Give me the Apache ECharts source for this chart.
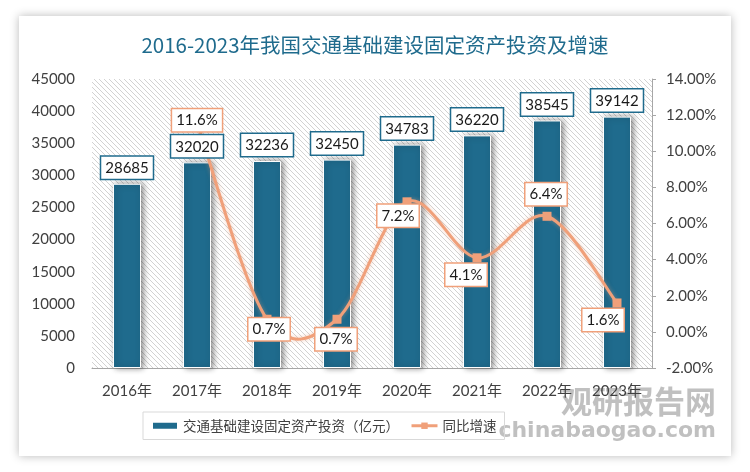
<!DOCTYPE html>
<html>
<head>
<meta charset="utf-8">
<script src="https://cdn.jsdelivr.net/npm/echarts@6/dist/echarts.min.js"></script>
<style>
  html, body { margin: 0; padding: 0; background: #ffffff; }
  #card { position: absolute; left: 19px; top: 16px; width: 712px; height: 440px; background: #fff;
          box-shadow: 0 0 9px rgba(0,0,0,0.28); }
  #chart { position: absolute; left: 0; top: 0; width: 750px; height: 472px; }
</style>
</head>
<body>
<div id="card"></div>
<div id="chart"></div>
<script>
// ---- data ----
const categories = ['2016年', '2017年', '2018年', '2019年', '2020年', '2021年', '2022年', '2023年'];
const investment = [28685, 32020, 32236, 32450, 34783, 36220, 38545, 39142];
const growth = [null, 11.6, 0.7, 0.7, 7.2, 4.1, 6.4, 1.6];
const seriesNames = ['交通基础建设固定资产投资（亿元）', '同比增速'];
const titleText = '2016-2023年我国交通基础建设固定资产投资及增速';

// ---- label placement (layout, per point offset from marker) ----
const growthLabelOffsets = [[0, 0], [0, -2], [2, 10], [-1, 20], [-9, 14], [-11, 17], [-1, -22], [-14, 17]];

const BLUE = '#1f6b8d';
const ORANGE = '#f0a07a';
const FONT = 'Lato, "Noto Sans CJK SC", sans-serif';
const CJK = '"Noto Sans CJK SC", sans-serif';

// hatch pattern for plot background
const pc = document.createElement('canvas');
pc.width = 5; pc.height = 5;
const ctx = pc.getContext('2d');
ctx.fillStyle = '#ffffff';
ctx.fillRect(0, 0, 5, 5);
ctx.strokeStyle = '#d2d2d2';
ctx.lineWidth = 1;
ctx.beginPath();
ctx.moveTo(-1, -1); ctx.lineTo(6, 6);
ctx.moveTo(-1, 4); ctx.lineTo(1, 6);
ctx.moveTo(4, -1); ctx.lineTo(6, 1);
ctx.stroke();

const growthData = growth.map((v, i) => ({
  value: v == null ? '-' : v,
  label: { offset: growthLabelOffsets[i] }
}));

// Catmull-Rom style smooth curve (like spreadsheet smoothing) drawn through axis coordinates
function renderCurve(params, api) {
  const i = params.dataIndex;
  const has = k => k >= 0 && k < growth.length && growth[k] != null;
  if (!has(i) || !has(i + 1)) return null;
  const P = k => api.coord([k, growth[k]]);
  const p1 = P(i), p2 = P(i + 1);
  const p0 = has(i - 1) ? P(i - 1) : p1;
  const p3 = has(i + 2) ? P(i + 2) : p2;
  const t = 1 / 6;
  return {
    type: 'bezierCurve',
    shape: {
      x1: p1[0], y1: p1[1], x2: p2[0], y2: p2[1],
      cpx1: p1[0] + (p2[0] - p0[0]) * t, cpy1: p1[1] + (p2[1] - p0[1]) * t,
      cpx2: p2[0] - (p3[0] - p1[0]) * t, cpy2: p2[1] - (p3[1] - p1[1]) * t
    },
    style: { stroke: ORANGE, lineWidth: 3, fill: null,
      shadowBlur: 4, shadowColor: 'rgba(240,160,122,0.5)' }
  };
}

const chart = echarts.init(document.getElementById('chart'), null, { renderer: 'canvas' });
chart.setOption({
  animation: false,
  title: {
    text: titleText,
    left: 'center',
    top: 30,
    textStyle: { color: BLUE, fontSize: 20.5, fontWeight: 'normal', fontFamily: CJK }
  },
  grid: {
    left: 92, right: 98, top: 79, bottom: 104,
    show: true,
    borderWidth: 0,
    backgroundColor: { image: pc, repeat: 'repeat' }
  },
  legend: {
    left: 143, top: 412,
    padding: [7, 8],
    borderColor: '#d9d9d9', borderWidth: 1,
    itemGap: 11,
    itemWidth: 26, itemHeight: 8,
    textStyle: { fontSize: 13.5, color: '#404040', fontFamily: CJK },
    data: [
      { name: seriesNames[0], icon: 'rect' },
      { name: seriesNames[1], lineStyle: { color: ORANGE, width: 3, opacity: 1 } }
    ]
  },
  xAxis: {
    type: 'category',
    data: categories,
    axisLine: { lineStyle: { color: '#a6a6a6', width: 1 } },
    axisTick: { show: false },
    axisLabel: { color: '#404040', fontSize: 15, margin: 16, fontFamily: FONT }
  },
  yAxis: [
    {
      type: 'value', min: 0, max: 45000, interval: 5000,
      axisLine: { show: false }, axisTick: { show: false }, splitLine: { show: false },
      axisLabel: { color: '#404040', fontSize: 15, margin: 17, fontFamily: FONT,
        formatter: v => String(v) }
    },
    {
      type: 'value', min: -2, max: 14, interval: 2, position: 'right',
      axisLine: { show: true, lineStyle: { color: '#a6a6a6' } },
      axisTick: { show: true, length: 4, lineStyle: { color: '#a6a6a6' } },
      splitLine: { show: false },
      axisLabel: { color: '#404040', fontSize: 15, margin: 14, fontFamily: FONT,
        formatter: v => v.toFixed(2) + '%' }
    }
  ],
  series: [
    {
      name: seriesNames[0],
      type: 'bar',
      data: investment,
      barWidth: '40%',
      itemStyle: { color: BLUE, borderColor: '#ffffff', borderWidth: 1,
        shadowBlur: 6, shadowColor: 'rgba(0,0,0,0.45)', shadowOffsetX: 2, shadowOffsetY: 0 },
      z: 2
    },
    {
      name: '_curve',
      type: 'custom',
      yAxisIndex: 1,
      data: growth.map((v, i) => [i, v == null ? 0 : v]),
      encode: { x: 0, y: 1 },
      renderItem: renderCurve,
      silent: true,
      z: 3
    },
    {
      name: seriesNames[1],
      type: 'line',
      yAxisIndex: 1,
      data: growthData,
      symbol: 'rect', symbolSize: 9,
      lineStyle: { color: ORANGE, width: 3, opacity: 0 },
      itemStyle: { color: ORANGE },
      label: {
        show: true, position: 'inside',
        formatter: p => p.value.toFixed(1) + '%',
        color: '#1a1a1a', fontSize: 15, fontFamily: FONT,
        backgroundColor: '#ffffff', borderColor: ORANGE, borderWidth: 1.5,
        padding: [4, 4, 3, 4]
      },
      z: 4
    },
    {
      name: '_barLabels',
      type: 'bar',
      data: investment,
      barWidth: '40%',
      barGap: '-100%',
      silent: true,
      itemStyle: { color: 'rgba(0,0,0,0)' },
      label: {
        show: true, position: 'top', distance: 5,
        color: '#1a1a1a', fontSize: 15, fontFamily: FONT,
        backgroundColor: '#ffffff', borderColor: BLUE, borderWidth: 1.5,
        padding: [4, 4, 3, 4]
      },
      z: 5
    }
  ],
  graphic: [
    {
      type: 'text', right: 34, top: 386, silent: true, z: -1,
      style: { text: '观研报告网', fontSize: 31, fontWeight: 'bold', fill: 'rgba(140,140,140,0.55)',
        fontFamily: CJK }
    },
    {
      type: 'text', right: 34, top: 420, silent: true, z: -1,
      style: { text: 'chinabaogao.com', fontSize: 22, fontWeight: 'bold', fill: 'rgba(140,140,140,0.55)',
        fontFamily: '"DejaVu Sans", sans-serif' }
    }
  ]
});
</script>
</body>
</html>
